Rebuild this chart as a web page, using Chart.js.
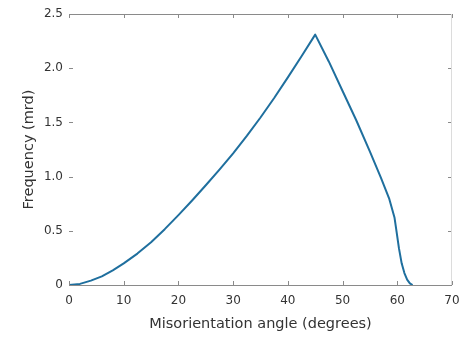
<!DOCTYPE html>
<html>
<head>
<meta charset="utf-8">
<script src="https://cdn.jsdelivr.net/npm/chart.js@4.4.1/dist/chart.umd.min.js"></script>
<style>
  body { margin: 0; background: #fff; }
  #wrap { width: 472px; height: 340px; }
</style>
</head>
<body>
<div id="wrap"><canvas id="mdf" width="472" height="340"></canvas></div>
<script>
// misorientation angle (degrees) vs frequency (mrd)
var angles = [0, 2, 4, 6, 8, 10, 12.5, 15, 17.5, 20, 22.5, 25, 27.5, 30, 32.5, 35, 37.5, 40, 42.5, 45,
              47.5, 50, 52.5, 55, 57, 58.5, 59.5, 59.9, 60.3, 60.8, 61.3, 61.8, 62.3, 62.8];
var freq = [0, 0.01, 0.04, 0.08, 0.135, 0.20, 0.29, 0.395, 0.515, 0.645, 0.78, 0.92, 1.065, 1.215, 1.375, 1.545, 1.725, 1.915, 2.11, 2.31,
            2.06, 1.79, 1.52, 1.23, 0.99, 0.80, 0.62, 0.48, 0.34, 0.20, 0.11, 0.05, 0.015, 0];
var xTicks = [0, 10, 20, 30, 40, 50, 60, 70];
var yTicks = [0, 0.5, 1, 1.5, 2, 2.5];

var points = angles.map(function (a, i) {
    return { x: a, y: freq[i] };
});

var axisGrey = '#8a8a8a';
var textGrey = '#333333';

// matlab style box: top/right lines plus inward tick marks on every side
var boxTicks = {
    id: 'boxTicks',
    afterDatasetsDraw: function (chart) {
        var ctx = chart.ctx;
        var a = chart.chartArea;
        var x = chart.scales.x, y = chart.scales.y;
        var len = 4;
        ctx.save();
        ctx.lineWidth = 1;
        ctx.strokeStyle = axisGrey;
        ctx.beginPath();
        ctx.moveTo(a.left, a.top + 0.5);
        ctx.lineTo(a.right, a.top + 0.5);
        ctx.moveTo(a.left, a.bottom + 0.5);
        ctx.lineTo(a.right, a.bottom + 0.5);
        xTicks.forEach(function (v) {
            var px = Math.round(x.getPixelForValue(v)) + 0.5;
            ctx.moveTo(px, a.bottom);
            ctx.lineTo(px, a.bottom - len);
            ctx.moveTo(px, a.top);
            ctx.lineTo(px, a.top + len);
        });
        yTicks.forEach(function (v) {
            var py = Math.round(y.getPixelForValue(v)) + 0.5;
            ctx.moveTo(a.left, py);
            ctx.lineTo(a.left + len, py);
            ctx.moveTo(a.right, py);
            ctx.lineTo(a.right - len, py);
        });
        ctx.stroke();
        ctx.strokeStyle = '#dcdcdc';
        ctx.beginPath();
        ctx.moveTo(a.right - 0.5, a.top);
        ctx.lineTo(a.right - 0.5, a.bottom);
        ctx.stroke();
        ctx.restore();
    }
};

var myChart = new Chart(document.getElementById('mdf').getContext('2d'), {
    type: 'scatter',
    data: {
        datasets: [{
            data: points,
            showLine: true,
            borderColor: '#1f6f9e',
            borderWidth: 2,
            borderJoinStyle: 'round',
            pointRadius: 0,
            tension: 0
        }]
    },
    options: {
        responsive: false,
        animation: false,
        layout: { padding: { top: 14, right: 20, left: 0, bottom: 0 } },
        plugins: {
            legend: { display: false },
            tooltip: { enabled: false }
        },
        scales: {
            x: {
                type: 'linear',
                min: 0,
                max: 70,
                afterBuildTicks: function (scale) {
                    scale.ticks = xTicks.map(function (v) { return { value: v }; });
                },
                afterFit: function (scale) { scale.height = 55; },
                grid: { display: false, drawTicks: false },
                border: { display: false },
                ticks: {
                    color: textGrey,
                    padding: 9,
                    maxRotation: 0,
                    font: { family: 'DejaVu Sans', size: 12 }
                },
                title: {
                    display: true,
                    text: 'Misorientation angle (degrees)',
                    color: textGrey,
                    padding: { top: 0, bottom: 7 },
                    font: { family: 'DejaVu Sans', size: 14.5 }
                }
            },
            y: {
                min: 0,
                max: 2.5,
                afterBuildTicks: function (scale) {
                    scale.ticks = yTicks.map(function (v) { return { value: v }; });
                },
                afterFit: function (scale) { scale.width = 69; },
                grid: { display: false, drawTicks: false },
                border: { display: false },
                ticks: {
                    color: textGrey,
                    padding: 6,
                    font: { family: 'DejaVu Sans', size: 12 }
                },
                title: {
                    display: true,
                    text: 'Frequency (mrd)',
                    color: textGrey,
                    padding: { top: 21, bottom: 0 },
                    font: { family: 'DejaVu Sans', size: 14.5 }
                }
            }
        }
    },
    plugins: [boxTicks]
});
</script>
</body>
</html>
